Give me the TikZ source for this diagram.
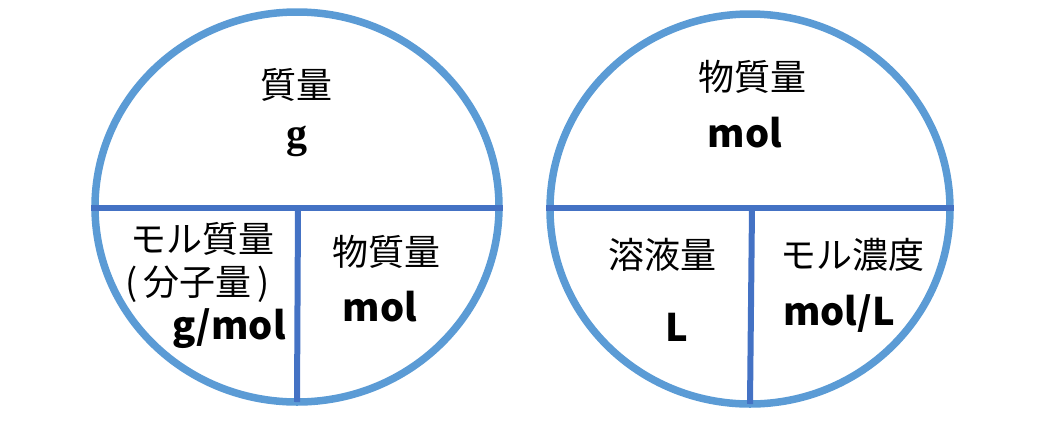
\documentclass[tikz,border=0pt]{standalone}
\usepackage{fontspec}
\usepackage{tikz}
\usetikzlibrary{shapes.geometric}
\newfontfamily\jpfont{Noto Sans CJK JP}
\newfontfamily\gfont{Liberation Serif}
\definecolor{rimblue}{HTML}{5B9BD5}
\definecolor{barblue}{HTML}{4472C4}
\tikzset{
  rim/.style={ellipse, draw=rimblue, line width=7.5bp, inner sep=0pt, minimum width=404bp, minimum height=390bp},
  bar/.style={draw=barblue, line width=6bp},
  jp/.style={inner sep=0pt, font=\jpfont\fontsize{36bp}{42bp}\selectfont},
  unit/.style={inner sep=0pt, font=\jpfont\bfseries\fontsize{38bp}{44bp}\selectfont}
}
\begin{document}
\begin{tikzpicture}[x=1bp, y=-1bp]
        \useasboundingbox (0,0) rectangle (1044,424);
        \node[rim] (lc) at (297,207) {};
        \node[rim, minimum width=400bp] (rc) at (750,209) {};
        \coordinate (lsplit) at (298,208);
        \coordinate (lfoot) at (297,402);
        \coordinate (rsplit) at (752,208);
        \coordinate (rfoot) at (750,404);
        \draw[bar] (lc.west |- lsplit) -- (lc.east |- lsplit);
        \draw[bar] (lsplit) -- (lfoot);
        \draw[bar] (rc.west |- rsplit) -- (rc.east |- rsplit);
        \draw[bar] (rsplit) -- (rfoot);
        \node[jp] (mass) at (296,85) {質量};
        \node[inner sep=0pt, font=\gfont\bfseries\fontsize{42bp}{48bp}\selectfont] (massunit) at (297,141) {g};
        \node[jp] (molar) at (202,239) {モル質量};
        \node[jp] (formula) at (198,284) {(\,分子量\,)};
        \node[unit] (molarunit) at (229,329) {g/mol};
        \node[jp] (amountl) at (386,252) {物質量};
        \node[unit] (amountlunit) at (380,307) {mol};
        \node[jp] (amountr) at (752,77) {物質量};
        \node[unit] (amountrunit) at (745,133) {mol};
        \node[jp] (volume) at (662,255) {溶液量};
        \node[unit] (volumeunit) at (677,327) {L};
        \node[jp] (conc) at (852,255) {モル濃度};
        \node[unit] (concunit) at (839,314) {mol/L};
        \end{tikzpicture}
\end{document}
